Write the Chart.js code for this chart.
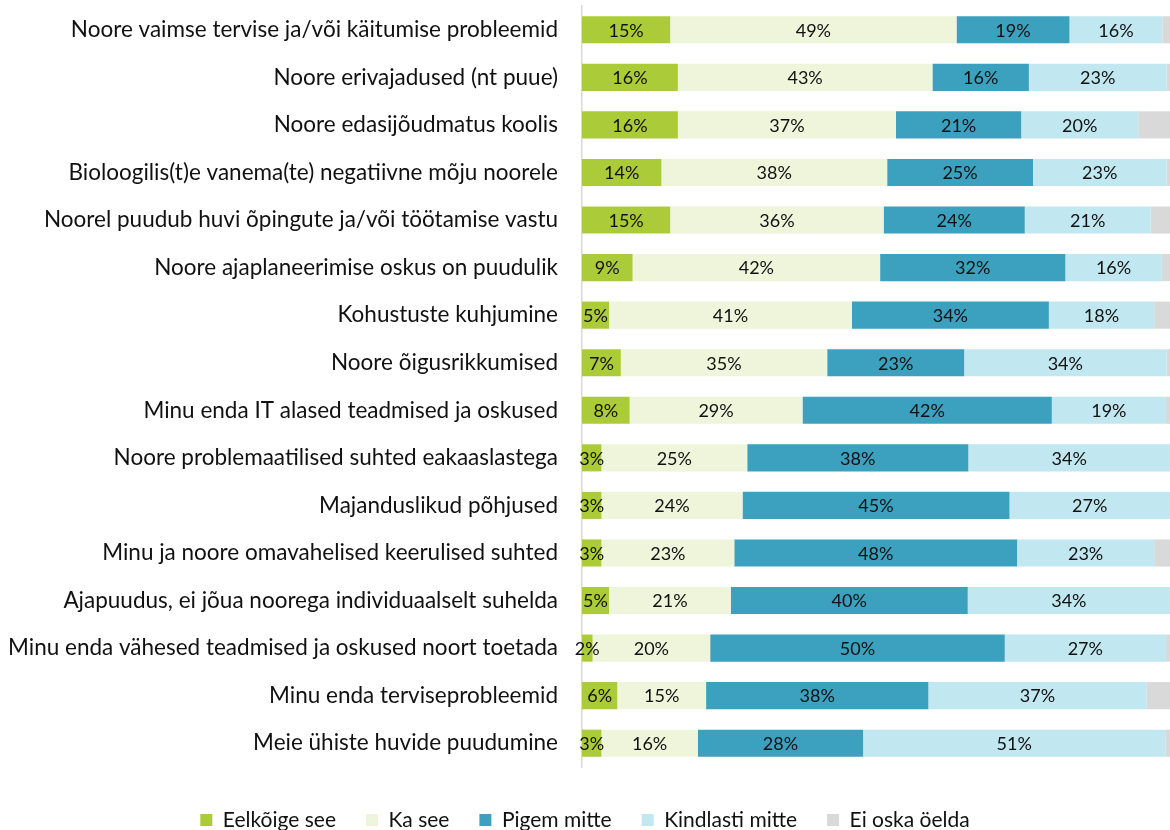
<!DOCTYPE html>
<html>
<head>
<meta charset="utf-8">
<script src="https://cdn.jsdelivr.net/npm/chart.js@4"></script>
<style>
  html, body { margin: 0; padding: 0; background: #fff; overflow: hidden; }
  #wrap { width: 1170px; height: 830px; }
</style>
</head>
<body>
<div id="wrap"><canvas id="chart" width="1170" height="830"></canvas></div>
<script>
// küsimuse väited (ülevalt alla)
const categories = [
  'Noore vaimse tervise ja/või käitumise probleemid',
  'Noore erivajadused (nt puue)',
  'Noore edasijõudmatus koolis',
  'Bioloogilis(t)e vanema(te) negatiivne mõju noorele',
  'Noorel puudub huvi õpingute ja/või töötamise vastu',
  'Noore ajaplaneerimise oskus on puudulik',
  'Kohustuste kuhjumine',
  'Noore õigusrikkumised',
  'Minu enda IT alased teadmised ja oskused',
  'Noore problemaatilised suhted eakaaslastega',
  'Majanduslikud põhjused',
  'Minu ja noore omavahelised keerulised suhted',
  'Ajapuudus, ei jõua noorega individuaalselt suhelda',
  'Minu enda vähesed teadmised ja oskused noort toetada',
  'Minu enda terviseprobleemid',
  'Meie ühiste huvide puudumine'
];

const seriesNames = ['Eelkõige see', 'Ka see', 'Pigem mitte', 'Kindlasti mitte', 'Ei oska öelda'];
const seriesColors = ['#accb38', '#eef5da', '#3ca0bf', '#c1e7f0', '#d9d9d9'];

// protsendid, loetud pildilt
const eelkoige   = [15.0, 16.3, 16.3, 13.5, 15.0,  8.6,  4.6,  6.6,  8.1,  3.3,  3.3,  3.3,  4.6,  1.8,  6.0,  3.3];
const kaSee      = [48.7, 43.3, 37.1, 38.4, 36.3, 42.1, 41.3, 35.1, 29.4, 24.8, 24.0, 22.6, 20.7, 20.0, 15.1, 16.4];
const pigemMitte = [19.2, 16.4, 21.3, 24.8, 24.0, 31.5, 33.5, 23.3, 42.4, 37.6, 45.4, 48.1, 40.3, 50.1, 37.8, 28.1];
const kindlasti  = [15.8, 23.4, 19.9, 22.7, 21.4, 16.4, 17.9, 34.4, 19.4, 34.3, 27.3, 23.3, 34.4, 27.4, 37.1, 51.4];
const eiOska     = [ 1.3,  0.6,  5.4,  0.6,  3.3,  1.4,  2.7,  0.6,  0.7,  0.0,  0.0,  2.7,  0.0,  0.7,  4.0,  0.8];

const allSeries = [eelkoige, kaSee, pigemMitte, kindlasti, eiOska];

const FONT = 'Lato, "Open Sans", sans-serif';

// protsendisildid lõikude keskele (v.a "Ei oska öelda")
const barLabels = {
  id: 'barLabels',
  afterDatasetsDraw(chart) {
    const ctx = chart.ctx;
    ctx.save();
    ctx.font = '18px ' + FONT;
    ctx.fillStyle = '#111';
    ctx.textAlign = 'center';
    ctx.textBaseline = 'middle';
    chart.data.datasets.forEach((ds, i) => {
      if (i === 4) return;
      chart.getDatasetMeta(i).data.forEach((bar, j) => {
        const v = ds.data[j];
        if (!v) return;
        ctx.fillText(Math.round(v) + '%', (bar.x + bar.base) / 2, bar.y + 1);
      });
    });
    ctx.restore();
  }
};

new Chart(document.getElementById('chart'), {
  type: 'bar',
  data: {
    labels: categories,
    datasets: allSeries.map((vals, i) => ({
      label: seriesNames[i],
      data: vals,
      backgroundColor: seriesColors[i],
      borderWidth: 0,
      barPercentage: 0.57,
      categoryPercentage: 1
    }))
  },
  options: {
    indexAxis: 'y',
    responsive: false,
    animation: false,
    layout: { padding: { top: 6, right: 0, bottom: -10.5, left: 0 } },
    scales: {
      x: { stacked: true, min: 0, max: 100, display: false },
      y: {
        stacked: true,
        grid: { display: false, drawTicks: false },
        border: { display: true, color: '#d9d9d9', width: 1.5 },
        ticks: { padding: 24, color: '#111', font: { family: FONT, size: 22.5 } },
        afterFit: s => { s.width = 582; s.paddingTop = 0; s.paddingBottom = 0; }
      }
    },
    plugins: {
      legend: {
        position: 'bottom',
        // tühi pealkiri annab legendile ülevalt veidi ruumi
        title: { display: true, text: ' ', font: { size: 12.5, lineHeight: 1 }, padding: 0 },
        labels: {
          boxWidth: 12, boxHeight: 12, padding: 30,
          color: '#111', font: { family: FONT, size: 21 }
        }
      },
      tooltip: { enabled: false }
    }
  },
  plugins: [barLabels]
});
</script>
</body>
</html>
